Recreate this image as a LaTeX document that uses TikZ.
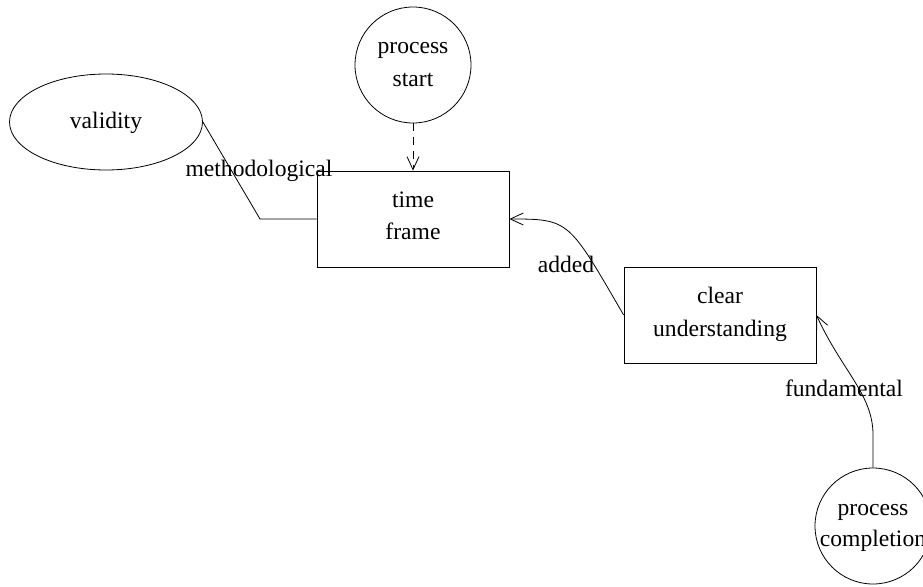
\documentclass[tikz,border=0pt]{standalone}
\usepackage{fontspec}
\setmainfont{Liberation Serif}
\usetikzlibrary{shapes.geometric,arrows.meta}
\begin{document}
\begin{tikzpicture}[x=1pt,y=1pt,
  every node/.style={font=\fontsize{23.6}{33}\selectfont, align=center, inner sep=0pt},
  ellbox/.style={draw, ellipse, minimum width=193pt, minimum height=96pt, line width=0.8pt},
  circbox/.style={draw, circle, minimum size=116pt, line width=0.8pt},
  rectbox/.style={draw, rectangle, minimum width=192pt, minimum height=96pt, line width=0.8pt},
  conn/.style={line width=0.8pt},
  tip/.style={-{Straight Barb[length=13pt,width=12pt,line width=0.8pt]}},
  lbl/.style={anchor=base}
]
\useasboundingbox (0,-586) rectangle (923,0);
\node[ellbox] (val) at (106,-122) {};
\node[lbl] (valt) at (106,-128) {validity};
\node[circbox] (ps) at (413,-65) {};
\node[lbl] (pst1) at (413,-53) {process};
\node[lbl] (pst2) at (413,-86) {start};
\node[rectbox] (tf) at (413,-219) {};
\node[lbl] (tft1) at (413,-207) {time};
\node[lbl] (tft2) at (413,-239) {frame};
\node[rectbox] (cu) at (720,-315) {};
\node[lbl] (cut1) at (720,-303) {clear};
\node[lbl] (cut2) at (720,-336) {understanding};
\node[circbox] (pc) at (873,-526) {};
\node[lbl] (pct1) at (873,-515) {process};
\node[lbl] (pct2) at (873,-546) {completion};

\draw[conn] (val.east) -- (260,-219) coordinate (vb) -- (tf.west);
\node[lbl] (lm) at (259,-176) {methodological};

\draw[conn, tip, dash pattern=on 8pt off 6pt] (ps.south) -- (tf.north);

\draw[conn, tip] (cu.west) .. controls +(-55,95) and +(60,0) .. (tf.east);
\node[lbl] (la) at (566,-272) {added};

\draw[conn, tip] (pc.north) -- ++(0,33) coordinate (pcb) .. controls +(0,40) and +(25,-55) .. (cu.east);
\node[lbl] (lf) at (844,-396) {fundamental};
\end{tikzpicture}
\end{document}
